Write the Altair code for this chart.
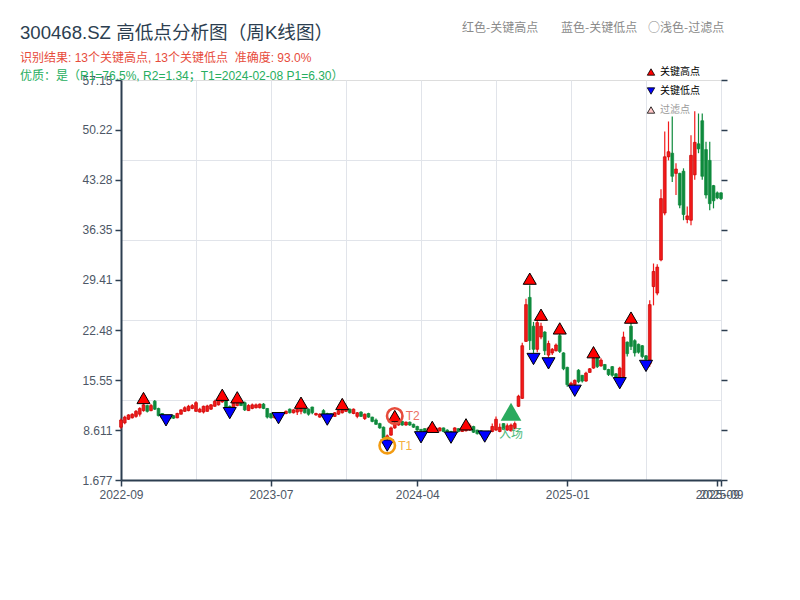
import altair as alt
import pandas as pd

FONT = "Liberation Sans, Noto Sans CJK SC, sans-serif"
CJK = "Noto Sans CJK SC, sans-serif"
DARK = "#2c3e50"
RED_FILL = "#f21a1a"
RED_EDGE = "#c80000"
GREEN = "#0e8a3c"

# ---- weekly candles (index 0..160) ----
opens = [
    9.0, 9.6, 10.1, 10.3, 10.5, 10.8, 11.3, 12.0, 11.3, 12.6,
    11.6, 10.9, 10.4, 10.5, 10.6, 10.3, 10.8, 11.2, 11.3, 11.6,
    11.2, 11.1, 11.1, 11.2, 11.5, 11.9, 12.1, 12.5, 13.0, 11.9,
    11.7, 12.0, 12.4, 12.4, 11.3, 11.6, 11.7, 11.7, 12.2, 11.6,
    10.9, 10.3, 10.9, 10.8, 10.9, 11.5, 11.0, 11.1, 11.2, 11.6,
    11.5, 11.8, 10.7, 10.4, 11.3, 10.9, 10.9, 10.5, 10.8, 11.0,
    11.2, 11.5, 10.9, 10.5, 11.1, 10.2, 10.9, 10.4, 10.0, 9.5,
    9.0, 7.5, 7.9, 8.9, 9.3, 9.8, 9.3, 9.7, 9.4, 9.1,
    8.7, 8.8, 8.3, 8.6, 8.5, 8.5, 8.9, 8.6, 8.4, 8.3,
    8.8, 8.4, 8.5, 8.6, 9.1, 8.6, 8.5, 8.3, 8.1, 8.4,
    8.6, 8.4, 9.5, 8.6, 8.5, 8.8, 11.9, 13.0, 20.9, 27.0,
    23.0, 19.8, 21.5, 22.2, 19.0, 19.3, 19.6, 21.7, 19.3, 17.3,
    14.8, 14.9, 16.9, 16.2, 15.4, 16.6, 17.2, 18.7, 17.5, 17.7,
    17.0, 17.4, 16.4, 15.6, 16.0, 20.8, 23.0, 21.0, 20.5, 20.3,
    18.9, 17.8, 28.5, 27.6, 32.2, 38.7, 46.5, 47.0, 44.2, 44.2,
    44.5, 37.8, 37.7, 44.0, 48.3, 51.5, 47.5, 46.0, 42.5, 41.5,
    41.5]
highs = [
    10.2, 10.6, 10.8, 10.95, 11.4, 11.75, 12.35, 12.1, 12.2, 12.77,
    11.7, 10.95, 10.5, 10.6, 10.7, 11.0, 11.5, 11.9, 12.1, 12.2,
    12.6, 11.7, 12.0, 12.1, 12.2, 12.8, 13.1, 13.1, 13.05, 12.0,
    12.5, 12.6, 12.5, 12.55, 12.2, 12.3, 12.3, 12.3, 12.35, 11.65,
    10.95, 10.8, 11.0, 11.1, 11.3, 11.6, 11.5, 11.6, 11.7, 11.65,
    11.6, 11.85, 11.0, 10.95, 11.5, 11.0, 10.95, 11.1, 11.4, 11.5,
    11.55, 11.6, 11.6, 11.1, 11.2, 10.9, 11.0, 10.45, 10.2, 9.6,
    9.1, 8.0, 9.1, 9.75, 10.0, 9.9, 9.8, 9.8, 9.5, 9.2,
    8.75, 8.85, 9.05, 9.2, 8.95, 9.0, 8.95, 8.7, 8.5, 9.0,
    8.85, 9.0, 9.6, 9.5, 9.2, 8.65, 8.55, 8.4, 8.5, 9.5,
    10.5, 9.5, 9.55, 9.5, 9.5, 9.8, 13.5, 20.7, 26.8, 28.7,
    23.6, 24.0, 23.5, 22.3, 21.0, 20.0, 20.6, 22.0, 19.4, 17.4,
    15.3, 15.6, 17.05, 16.25, 16.7, 17.2, 18.8, 18.8, 18.55, 17.75,
    17.1, 17.5, 16.5, 17.4, 22.25, 20.9, 23.5, 21.2, 20.6, 20.4,
    19.0, 26.6, 31.7, 31.6, 42.0, 50.0, 51.4, 52.1, 45.6, 44.3,
    44.9, 39.6, 49.5, 52.8, 52.5, 52.5, 48.6, 48.6, 42.6, 41.7,
    41.6]
lows = [
    8.8, 9.4, 10.0, 10.2, 10.3, 10.5, 11.15, 11.05, 11.2, 11.4,
    10.5, 10.2, 9.95, 10.1, 10.15, 10.25, 10.75, 11.1, 11.2, 11.5,
    11.15, 11.05, 10.9, 11.15, 11.4, 11.85, 12.0, 12.4, 11.6, 11.55,
    11.6, 11.9, 11.95, 11.25, 11.25, 11.5, 11.6, 11.6, 11.5, 10.2,
    10.2, 10.2, 10.75, 10.75, 10.8, 10.9, 10.9, 10.7, 10.8, 10.9,
    10.6, 10.8, 10.6, 10.3, 10.6, 10.75, 10.4, 10.4, 10.7, 10.9,
    11.1, 10.9, 10.8, 10.25, 10.4, 10.0, 10.3, 9.7, 9.3, 8.8,
    7.4, 7.25, 7.8, 8.8, 9.2, 9.2, 9.2, 9.2, 8.9, 8.5,
    8.4, 8.15, 8.25, 8.5, 8.4, 8.4, 8.3, 8.2, 8.2, 8.2,
    8.3, 8.35, 8.4, 8.5, 8.2, 8.0, 7.9, 8.0, 8.0, 8.3,
    8.5, 8.3, 8.6, 8.5, 8.4, 8.7, 11.8, 12.9, 20.8, 19.7,
    19.3, 19.4, 21.2, 19.0, 18.7, 19.0, 19.5, 19.3, 16.9, 14.6,
    14.6, 14.6, 15.1, 15.2, 15.3, 16.55, 17.1, 17.2, 17.4, 16.9,
    16.1, 16.0, 15.6, 15.5, 15.8, 18.8, 19.7, 18.8, 19.2, 18.55,
    18.3, 17.4, 25.9, 27.3, 32.0, 38.4, 46.0, 43.0, 41.2, 39.35,
    37.7, 37.3, 37.0, 43.3, 47.0, 43.3, 40.7, 39.1, 39.35, 40.6,
    40.5]
closes = [
    10.0, 10.4, 10.7, 10.8, 11.2, 11.6, 12.1, 11.2, 12.0, 11.5,
    10.6, 10.3, 10.1, 10.2, 10.25, 10.9, 11.4, 11.7, 11.9, 12.0,
    12.4, 11.5, 11.9, 11.95, 12.1, 12.6, 12.9, 13.0, 11.7, 11.7,
    12.3, 12.4, 12.0, 11.4, 12.0, 12.1, 12.1, 12.2, 11.6, 10.4,
    10.3, 10.75, 10.8, 11.0, 11.2, 11.0, 11.4, 11.5, 11.6, 11.0,
    10.8, 11.0, 10.9, 10.8, 10.7, 10.8, 10.5, 11.0, 11.3, 11.4,
    11.5, 11.0, 11.5, 11.0, 10.5, 10.8, 10.4, 9.8, 9.4, 8.9,
    7.5, 7.8, 8.9, 9.6, 9.8, 9.3, 9.7, 9.3, 9.0, 8.6,
    8.5, 8.25, 8.9, 9.0, 8.85, 8.9, 8.4, 8.3, 8.3, 8.9,
    8.4, 8.9, 9.4, 9.2, 8.3, 8.1, 8.0, 8.1, 8.4, 9.1,
    10.1, 9.0, 8.7, 9.2, 9.3, 9.5, 13.3, 20.3, 26.0, 21.0,
    19.8, 23.5, 23.0, 19.6, 20.6, 19.8, 20.4, 19.5, 17.1, 14.9,
    15.1, 15.5, 15.3, 15.4, 16.5, 17.1, 18.6, 17.4, 18.3, 17.0,
    16.3, 16.2, 15.8, 17.2, 21.5, 19.2, 20.2, 19.3, 19.4, 18.8,
    18.4, 26.0, 30.6, 31.2, 40.7, 46.5, 47.2, 43.8, 44.8, 39.8,
    38.5, 38.3, 46.7, 48.5, 47.6, 43.8, 41.2, 40.0, 40.4, 40.8,
    40.7]

# ---- key points ----
key_high_idx = [6, 27, 31, 48, 59, 73, 83, 92, 109, 112, 117, 126, 136]
key_high_val = [13.05, 13.5, 13.15, 12.4, 12.22, 10.55, 9.05, 9.4, 29.6, 24.6, 22.7, 19.4, 24.2]
key_low_idx = [12, 29, 42, 55, 71, 80, 88, 97, 110, 114, 121, 133, 140]
key_low_val = [9.95, 10.95, 10.25, 10.05, 6.45, 7.6, 7.55, 7.7, 18.46, 17.85, 14.05, 15.1, 17.5]
t1_point = (71, 6.45)
t2_point = (73, 10.55)
entry_point = (104, 11.15)

# ---- axes ----
x_tick_idx = [0, 40, 79, 119, 159, 160]
x_tick_labels = ["2022-09", "2023-07", "2024-04", "2025-01", "2025-09", "2025-09"]
x_grid_idx = [0, 20, 40, 60, 80, 100, 120, 140, 160]
y_tick_vals = [1.677, 8.611, 15.545, 22.479, 29.414, 36.348, 43.282, 50.216, 57.15]
y_tick_labels = ["1.677", "8.611", "15.55", "22.48", "29.41", "36.35", "43.28", "50.22", "57.15"]
y_grid_vals = [12.7716, 23.8662, 34.9608, 46.0554]

title_text = "300468.SZ 高低点分析图（周K线图）"
line1_text = "识别结果: 13个关键高点, 13个关键低点\u00a0\u00a0准确度: 93.0%"
line2_text = "优质：是（R1=76.5%, R2=1.34；T1=2024-02-08 P1=6.30）"


def ternary(vals, labels):
    expr = "''"
    for v, lab in reversed(list(zip(vals, labels))):
        expr = f"datum.value == {v} ? '{lab}' : ({expr})"
    return expr


def anytest(vals):
    return " || ".join(f"datum.value == {v}" for v in vals)


def cond(vals):
    return {"condition": {"test": anytest(vals), "value": 1}, "value": 0}


n = len(opens)
candles = pd.DataFrame({"i": list(range(n)), "o": opens, "h": highs, "l": lows, "c": closes})
candles["dir"] = ["up" if c >= o else "down" for o, c in zip(opens, closes)]

xscale = alt.Scale(domain=[0, 160], nice=False, zero=False, padding=0)
yscale = alt.Scale(domain=[1.677, 57.15], nice=False, zero=False, padding=0)

AX = dict(domainColor=DARK, domainWidth=2, tickColor=DARK, tickWidth=1.5, tickSize=6,
          labelFont=FONT, labelFontSize=12, labelColor="#4d5766", labelPadding=3,
          gridColor="#e1e4ea", gridWidth=1, title=None, grid=True, labelOverlap=False)

x_vals = sorted(set(x_tick_idx) | set(x_grid_idx))
xaxis = alt.Axis(values=x_vals, labelExpr=ternary(x_tick_idx, x_tick_labels),
                 gridOpacity=cond(x_grid_idx), tickOpacity=cond(x_tick_idx),
                 labelFlush=False, **AX)
y_vals = sorted(y_tick_vals + y_grid_vals)
yaxis = alt.Axis(values=y_vals, labelExpr=ternary(y_tick_vals, y_tick_labels),
                 gridOpacity=cond(y_grid_vals), tickOpacity=cond(y_tick_vals), **AX)

X = alt.X("i:Q", scale=xscale, axis=xaxis)


def Y(field):
    return alt.Y(field, scale=yscale, axis=yaxis)


wicks = alt.Chart(candles).mark_rule(strokeWidth=1.2).encode(
    x=X, y=Y("l:Q"), y2="h:Q",
    color=alt.Color("dir:N", scale=alt.Scale(domain=["up", "down"], range=[RED_FILL, GREEN]), legend=None))
bodies = alt.Chart(candles).mark_bar(width=2.8, strokeWidth=0.7).encode(
    x=X, y=Y("o:Q"), y2="c:Q",
    fill=alt.Fill("dir:N", scale=alt.Scale(domain=["up", "down"], range=[RED_FILL, GREEN]), legend=None),
    stroke=alt.Stroke("dir:N", scale=alt.Scale(domain=["up", "down"], range=[RED_EDGE, GREEN]), legend=None))

hi_df = pd.DataFrame({"i": key_high_idx, "v": key_high_val})
lo_df = pd.DataFrame({"i": key_low_idx, "v": key_low_val})
hi_layer = alt.Chart(hi_df).mark_point(shape="triangle-up", filled=True, fill="#ff0000", stroke="#000000",
                                       strokeWidth=1, size=170, opacity=1).encode(x=X, y=Y("v:Q"))
lo_layer = alt.Chart(lo_df).mark_point(shape="triangle-down", filled=True, fill="#0000ff", stroke="#000000",
                                       strokeWidth=1, size=170, opacity=1).encode(x=X, y=Y("v:Q"))


def pt_df(p):
    return pd.DataFrame({"i": [p[0]], "v": [p[1]]})


entry = alt.Chart(pt_df(entry_point)).mark_point(shape="triangle-up", filled=True, fill="#2aaa5e",
                                                 strokeWidth=0, size=430, opacity=1).encode(x=X, y=Y("v:Q"))
entry_txt = alt.Chart(pt_df(entry_point)).mark_text(dy=22, fontSize=12, color="#4cb97a", font=CJK,
                                                    baseline="middle").encode(x=X, y=Y("v:Q"), text=alt.value("入场"))
t1_ring = alt.Chart(pt_df(t1_point)).mark_point(shape="circle", filled=False, stroke="#f39c12", strokeWidth=2.6,
                                                size=240, opacity=1).encode(x=X, y=Y("v:Q"))
t1_txt = alt.Chart(pt_df(t1_point)).mark_text(dx=11, align="left", baseline="middle", fontSize=12,
                                              color="#f5b041", font=FONT).encode(x=X, y=Y("v:Q"), text=alt.value("T1"))
t2_ring = alt.Chart(pt_df(t2_point)).mark_point(shape="circle", filled=False, stroke="#e74c3c", strokeWidth=2.6,
                                                size=240, opacity=1).encode(x=X, y=Y("v:Q"))
t2_txt = alt.Chart(pt_df(t2_point)).mark_text(dx=11, align="left", baseline="middle", fontSize=12,
                                              color="#ec7063", font=FONT).encode(x=X, y=Y("v:Q"), text=alt.value("T2"))

inner = alt.layer(wicks, bodies, hi_layer, lo_layer, entry, entry_txt, t1_ring, t1_txt, t2_ring, t2_txt)

right_axis = alt.Chart(candles).mark_point(opacity=0).encode(
    y=alt.Y("h:Q", scale=yscale,
            axis=alt.Axis(orient="right", values=y_tick_vals, labels=False, grid=False, domain=False,
                          ticks=True, tickSize=6, tickColor=DARK, tickWidth=1.5, title=None)))


def txt(s, x, y, size, color, align="left", font=FONT):
    return alt.Chart(pd.DataFrame({"t": [s]})).mark_text(
        align=align, baseline="middle", fontSize=size, color=color, font=font).encode(
        x=alt.value(x), y=alt.value(y), text="t:N")


def sym(shape, fill, x, y, size=55):
    return alt.Chart(pd.DataFrame({"s": [shape]})).mark_point(
        shape=shape, filled=True, fill=fill, stroke="#000000", strokeWidth=0.8, size=size, opacity=1).encode(
        x=alt.value(x), y=alt.value(y))


overlays = [
    txt(title_text, -101, -47, 18.6, "#2c3e50"),
    txt(line1_text, -101, -22, 12, "#e74c3c"),
    txt(line2_text, -101, -4, 12, "#27ae60"),
    txt("红色-关键高点", 341, -52, 12, "#8a8a8a", font=CJK),
    txt("蓝色-关键低点", 440, -52, 12, "#8a8a8a", font=CJK),
    txt("○浅色-过滤点", 527, -52, 12, "#8a8a8a", font=CJK),
    sym("triangle-up", "#ff0000", 530, -8),
    sym("triangle-down", "#0000ff", 530, 11),
    sym("triangle-up", "#ffc8c8", 530, 30),
    txt("关键高点", 539, -8, 10, "#000000", font=CJK),
    txt("关键低点", 539, 11, 10, "#000000", font=CJK),
    txt("过滤点", 539, 30, 10, "#9a9a9a", font=CJK),
]

chart = alt.layer(inner, right_axis, *overlays).resolve_axis(y="independent").properties(
    width=600, height=400,
    autosize=alt.AutoSizeParams(type="none"),
    padding={"left": 113, "top": 72, "right": 70, "bottom": 100},
).configure_view(fill="#f7f9fc", stroke=DARK, strokeWidth=1.5).configure(font=FONT)

chart.save("out.html", embed_options={"renderer": "svg", "actions": False})
